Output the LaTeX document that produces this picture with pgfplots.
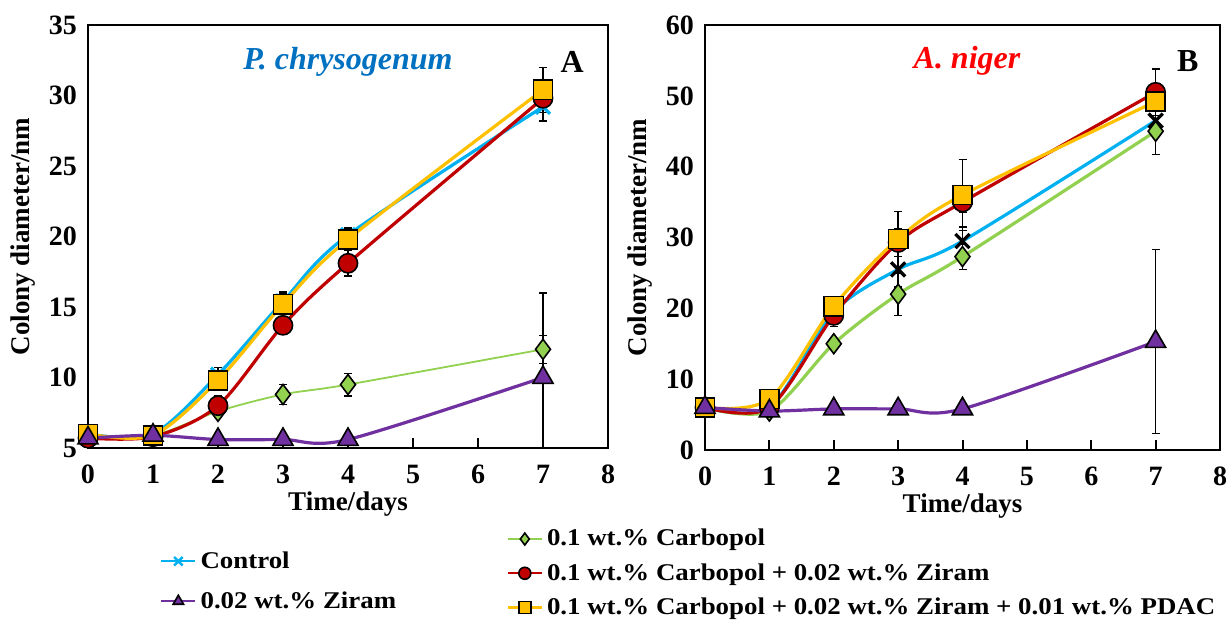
\documentclass[border=0pt]{standalone}
\usepackage{fontspec}
\setmainfont{Liberation Serif}
\newfontfamily\tnr{Liberation Serif}
\newfontfamily\tnrw{Liberation Serif}[FakeStretch=1.12]
\usepackage{pgfplots}
\pgfplotsset{compat=1.18}

\definecolor{cBlue}{RGB}{0,176,240}
\definecolor{cGreen}{RGB}{146,208,80}
\definecolor{cRed}{RGB}{192,0,0}
\definecolor{cYellow}{RGB}{255,192,0}
\definecolor{cPurple}{RGB}{112,48,160}
\definecolor{tBlue}{RGB}{0,112,192}

\pgfplotsset{
  panel/.style={
    scale only axis,
    height=211.5pt,
    xmin=0, xmax=8, xtick={0,...,8},
    axis line style={line width=1.3pt},
    tick align=inside, xtick pos=bottom, ytick pos=left,
    major x tick style={line width=1pt, black}, major tick length=5pt,
    major y tick style={draw=none},
    /pgf/number format/assume math mode=true,
    ticklabel style={font=\tnr\bfseries\fontsize{14}{14}\selectfont},
    xticklabel style={yshift=-5pt},
    yticklabel style={xshift=-2pt},
    label style={font=\tnr\bfseries\fontsize{13.5}{13.5}\selectfont},
    xlabel={Time/days}, ylabel={Colony diameter/nm},
    xlabel style={yshift=3pt},
    legend cell align=left,
    legend image code/.code={\draw[mark repeat=2,mark phase=2,line width=1.2pt] plot coordinates {(0pt,0pt) (8.5pt,0pt) (17pt,0pt)};},
    legend style={draw=none, fill=none, font=\tnrw\bfseries\fontsize{12}{12}\selectfont, inner sep=0pt,
      nodes={inner xsep=2pt}},
    every axis plot/.append style={
      error bars/y dir=both, error bars/y explicit,
      error bars/error bar style={black, line width=0.7pt},
      error bars/error mark options={black, rotate=90, mark size=2pt, line width=0.7pt}},
  },
  sCtrl/.style={color=cBlue, line width=1.6pt, smooth, mark=x, mark size=5pt, mark options={line width=1.2pt}},
  sCarb/.style={color=cGreen, line width=1.6pt, smooth, mark=diamond*, mark size=5pt, mark options={fill=cGreen, draw=black, line width=0.8pt}},
  sRed/.style={color=cRed, line width=1.6pt, smooth, mark=*, mark size=4.8pt, mark options={fill=cRed, draw=black, line width=0.8pt}},
  sYel/.style={color=cYellow, line width=1.6pt, smooth, mark=square*, mark size=4.8pt, mark options={fill=cYellow, draw=black, line width=0.8pt}},
  sZir/.style={color=cPurple, line width=1.6pt, smooth, mark=triangle*, mark size=5.8pt, mark options={fill=cPurple, draw=black, line width=0.8pt}},
}

\begin{document}
\begin{tikzpicture}
\useasboundingbox (-44pt,-86pt) rectangle (570.5pt,224pt);
% ---- panel A
\begin{axis}[panel, name=A, at={(0,0)}, width=260pt,
  ymin=5, ymax=35, ytick={5,10,...,35},
  legend style={at={(rel axis cs:0.138,-0.234)}, anchor=north west, row sep=6.2pt},
  legend image post style={mark size=3pt}]
\addplot[sCtrl, mark options={draw=cBlue}] table[y error=e] {
x y e
0 6.0 0.2
1 6.0 0.3
2 10.2 0.5
3 15.4 0.6
4 20.1 0.5
7 29.2 1.0
};
\addlegendentry{Control}
\addplot[sCarb, line width=0.9pt, forget plot] table[y error=e] {
x y e
0 5.8 0.2
1 5.9 0.2
2 7.6 0.4
3 8.8 0.7
4 9.5 0.8
7 12.0 1.0
};
\addplot[sRed, forget plot] table[y error=e] {
x y e
0 5.7 0.2
1 5.8 0.2
2 8.0 0.7
3 13.7 0.5
4 18.1 0.9
7 29.8 1.0
};
\addplot[sYel, forget plot] table[y error=e] {
x y e
0 6.0 0.2
1 5.9 0.6
2 9.8 0.4
3 15.2 0.9
4 19.8 0.7
7 30.4 1.6
};
\addplot[sZir] table[y error=e] {
x y e
0 5.7 0.1
1 5.9 0.1
2 5.6 0.1
3 5.6 0.1
4 5.6 0.1
7 10.0 6.0
};
\addlegendentry{0.02 wt.\% Ziram}
\node[font=\tnr\bfseries\itshape\fontsize{16}{16}\selectfont, text=tBlue] at (axis cs:4.0,32.4) {P. chrysogenum};
\node[font=\tnr\bfseries\fontsize{16}{16}\selectfont] at (axis cs:7.45,32.4) {A};
\end{axis}
% ---- panel B
\begin{axis}[panel, name=B, at={(308.5pt,-1pt)}, width=257.5pt, height=212.5pt,
  ymin=0, ymax=60, ytick={0,10,...,60},
  legend style={at={(rel axis cs:-0.386,-0.176)}, anchor=north west, row sep=3.3pt},
  legend image post style={mark size=3pt}]
\addplot[sCtrl, mark options={draw=black}, forget plot] table[y error=e] {
x y e
0 6.0 0.3
1 6.0 0.3
2 19.5 1.5
3 25.5 2.5
4 29.5 2.0
7 46.5 1.5
};
\addplot[sCarb] table[y error=e] {
x y e
0 6.0 0.3
1 5.5 0.3
2 15.0 0.5
3 22.0 3.0
4 27.3 1.8
7 45.0 3.3
};
\addlegendentry{0.1 wt.\% Carbopol}
\addplot[sRed] table[y error=e] {
x y e
0 6.0 0.3
1 6.0 0.3
2 19.0 1.6
3 29.3 2.0
4 35.0 1.5
7 50.5 3.3
};
\addlegendentry{0.1 wt.\% Carbopol + 0.02 wt.\% Ziram}
\addplot[sYel] table[y error=e] {
x y e
0 6.0 0.3
1 7.2 0.5
2 20.3 1.0
3 29.8 3.9
4 36.0 5.0
7 49.2 1.0
};
\addlegendentry{0.1 wt.\% Carbopol + 0.02 wt.\% Ziram + 0.01 wt.\% PDAC}
\addplot[sZir, forget plot] table[y error=e] {
x y e
0 6.0 0.2
1 5.5 0.2
2 5.8 0.2
3 5.8 0.2
4 5.8 0.2
7 15.3 13.0
};
\node[font=\tnr\bfseries\itshape\fontsize{16}{16}\selectfont, text=red] at (axis cs:4.07,54.9) {A. niger};
\node[font=\tnr\bfseries\fontsize{16}{16}\selectfont] at (axis cs:7.5,54.9) {B};
\end{axis}
\end{tikzpicture}
\end{document}
